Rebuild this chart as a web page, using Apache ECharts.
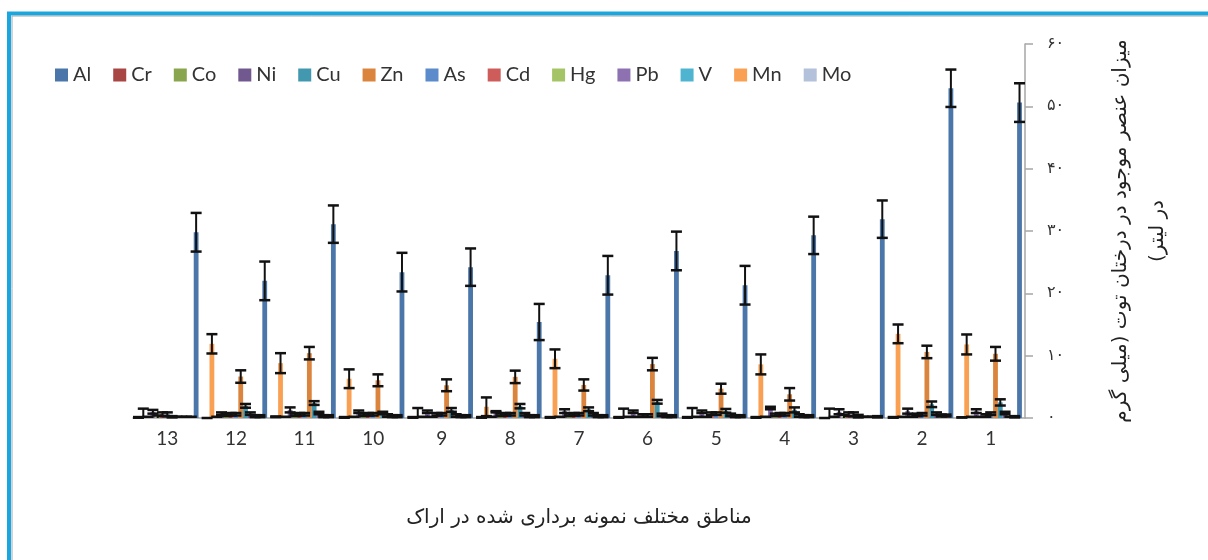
<!DOCTYPE html>
<html>
<head>
<meta charset="utf-8">
<script src="https://cdn.jsdelivr.net/npm/echarts@6/dist/echarts.min.js"></script>
<style>
html, body { margin: 0; padding: 0; background: #fff; }
#chart { width: 1208px; height: 560px; }
</style>
</head>
<body>
<div id="chart"></div>
<script>
// sampling regions 1..13 (axis shown reversed: 13 on the left)
var regions = ['1', '2', '3', '4', '5', '6', '7', '8', '9', '10', '11', '12', '13'];
var yTicks = [0, 10, 20, 30, 40, 50, 60];

var Al = [50.6, 52.9, 31.9, 29.3, 21.3, 26.8, 22.9, 15.4, 24.2, 23.4, 31.1, 22.0, 29.8];
var Cr = [0.2, 0.4, 0.2, 0.3, 0.3, 0.3, 0.3, 0.3, 0.3, 0.3, 0.3, 0.3, 0.1];
var Co = [0.1, 0.4, 0.1, 0.3, 0.3, 0.3, 0.3, 0.3, 0.3, 0.3, 0.3, 0.3, 0.1];
var Ni = [0.8, 0.7, 0.1, 0.4, 0.5, 0.5, 0.6, 0.6, 0.4, 0.4, 0.8, 0.7, 0.1];
var Cu = [2.5, 2.2, 0.1, 1.3, 1.15, 2.6, 1.4, 1.9, 1.3, 0.8, 2.4, 1.95, 0.1];
var Zn = [10.3, 10.6, 0.3, 3.8, 4.7, 8.65, 5.3, 6.6, 5.25, 6.05, 10.4, 6.65, 0.2];
var As = [0.7, 0.6, 0.6, 0.6, 0.7, 0.4, 0.6, 0.6, 0.6, 0.6, 0.6, 0.6, 0.6];
var Cd = [0.4, 0.5, 0.6, 0.6, 0.7, 0.4, 0.6, 0.6, 0.6, 0.6, 0.6, 0.6, 0.6];
var Hg = [0.1, 0.4, 0.2, 0.5, 0.1, 0.1, 0.5, 0.5, 0.1, 0.5, 0.5, 0.5, 0.2];
var Pb = [1.1, 1.1, 1.0, 1.6, 1.0, 1.0, 1.1, 1.0, 1.0, 1.0, 1.3, 0.7, 1.0];
var V  = [0.1, 0.1, 0.1, 0.1, 0.1, 0.1, 0.1, 0.1, 0.1, 0.1, 0.1, 0.1, 0.1];
var Mn = [11.8, 13.5, 0.1, 8.6, 0.1, 0.1, 9.5, 1.8, 0.1, 6.3, 8.8, 11.9, 0.1];
var Mo = [0.1, 0.1, 0.0, 0.1, 0.1, 0.1, 0.1, 0.1, 0.1, 0.1, 0.2, 0.0, 0.1];

// standard deviations (error bars)
var Al_err = [3.1, 3.0, 3.0, 3.0, 3.1, 3.1, 3.1, 2.9, 3.0, 3.1, 3.0, 3.1, 3.1];
var Cr_err = [0.1, 0.15, 0.1, 0.15, 0.15, 0.15, 0.15, 0.15, 0.15, 0.15, 0.15, 0.15, 0.1];
var Co_err = [0.1, 0.15, 0.1, 0.15, 0.15, 0.15, 0.15, 0.15, 0.15, 0.15, 0.15, 0.15, 0.1];
var Ni_err = [0.2, 0.2, 0.1, 0.2, 0.2, 0.2, 0.2, 0.2, 0.2, 0.2, 0.2, 0.2, 0.1];
var Cu_err = [0.5, 0.45, 0.1, 0.4, 0.3, 0.3, 0.3, 0.35, 0.3, 0.2, 0.3, 0.3, 0.1];
var Zn_err = [1.1, 1.0, 0.2, 1.0, 0.8, 1.0, 0.9, 1.0, 0.95, 0.95, 1.0, 1.0, 0.1];
var As_err = [0.2, 0.2, 0.3, 0.2, 0.2, 0.2, 0.2, 0.2, 0.2, 0.2, 0.2, 0.2, 0.3];
var Cd_err = [0.2, 0.2, 0.3, 0.2, 0.2, 0.2, 0.2, 0.2, 0.2, 0.2, 0.2, 0.2, 0.3];
var Hg_err = [0.1, 0.2, 0.3, 0.2, 0.1, 0.1, 0.2, 0.2, 0.1, 0.2, 0.2, 0.2, 0.2];
var Pb_err = [0.3, 0.4, 0.4, 0.2, 0.2, 0.2, 0.3, 0.1, 0.2, 0.2, 0.4, 0.2, 0.3];
var V_err  = [0.1, 0.1, 0.1, 0.1, 0.1, 0.1, 0.1, 0.1, 0.1, 0.1, 0.1, 0.1, 0.1];
var Mn_err = [1.6, 1.5, 1.4, 1.6, 1.5, 1.4, 1.5, 1.5, 1.5, 1.5, 1.6, 1.55, 1.4];
var Mo_err = [0.0, 0.05, 0.0, 0.05, 0.05, 0.05, 0.05, 0.05, 0.05, 0.05, 0.05, 0.0, 0.05];

var names = ['Al', 'Cr', 'Co', 'Ni', 'Cu', 'Zn', 'As', 'Cd', 'Hg', 'Pb', 'V', 'Mn', 'Mo'];
var values = [Al, Cr, Co, Ni, Cu, Zn, As, Cd, Hg, Pb, V, Mn, Mo];
var errors = [Al_err, Cr_err, Co_err, Ni_err, Cu_err, Zn_err, As_err, Cd_err, Hg_err, Pb_err, V_err, Mn_err, Mo_err];
var colors = ['#4A76A9', '#A84643', '#89A54E', '#71588F', '#4298AF', '#DB843D',
	'#5B8BCB', '#CD5C5A', '#A5C466', '#8D71B1', '#4FB4D0', '#F9A052', '#B3C1DB'];

var GAP = 0.09;
var fa = '۰۱۲۳۴۵۶۷۸۹';

var chart = echarts.init(document.getElementById('chart'));

var series = [];
// bars are laid out left to right in series order, so push them reversed (Mo ... Al)
for (var i = names.length - 1; i >= 0; i--) {
	series.push({
		name: names[i],
		type: 'bar',
		barGap: '0%',
		barCategoryGap: (GAP * 100) + '%',
		itemStyle: { color: colors[i] },
		data: values[i]
	});
}

var errData = [];
for (var i = 0; i < names.length; i++) {
	for (var r = 0; r < regions.length; r++) {
		errData.push([r, values[i][r], errors[i][r], names.length - 1 - i]);
	}
}

series.push({
	name: 'err',
	type: 'custom',
	z: 10,
	silent: true,
	encode: { x: 0, y: 1 },
	data: errData,
	renderItem: function (params, api) {
		var cat = api.value(0), v = api.value(1), e = api.value(2), slot = api.value(3);
		var band = Math.abs(api.size([1, 0])[0]);
		var total = band * (1 - GAP);
		var w = total / names.length;
		var c = api.coord([cat, v]);
		var x = c[0] - total / 2 + (slot + 0.5) * w;
		var lo = Math.max(0, v - e);
		var yt = api.coord([cat, v + e])[1];
		var yb = api.coord([cat, lo])[1];
		var st = { stroke: '#111', lineWidth: 2 };
		var capSt = { stroke: '#111', lineWidth: 2.5 };
		var kids = [
			{ type: 'line', shape: { x1: x, y1: yt, x2: x, y2: yb }, style: st },
			{ type: 'line', shape: { x1: x - 5.5, y1: yt, x2: x + 5.5, y2: yt }, style: capSt }
		];
		if (v - e > 0) {
			kids.push({ type: 'line', shape: { x1: x - 5.5, y1: yb, x2: x + 5.5, y2: yb }, style: capSt });
		}
		return { type: 'group', children: kids };
	}
});

var option = {
	animation: false,
	color: colors,
	graphic: [{
		type: 'rect',
		shape: { x: 9, y: 13.5, width: 1400, height: 800 },
		style: { fill: 'none', stroke: '#1AA7DF', lineWidth: 4 }
	}, {
		type: 'rect',
		shape: { x: 12, y: 16, width: 1400, height: 800 },
		style: { fill: 'none', stroke: '#A8A8A8', lineWidth: 1 }
	}],
	legend: {
		data: names,
		left: 50,
		top: 60,
		itemWidth: 13,
		itemHeight: 13,
		itemGap: 22,
		icon: 'rect',
		textStyle: { fontFamily: 'Lato', fontSize: 20, color: '#333' }
	},
	grid: {
		left: 133,
		right: 183,
		top: 44,
		bottom: 142
	},
	xAxis: {
		type: 'category',
		inverse: true,
		data: regions,
		axisLine: { lineStyle: { color: '#A6A6A6', width: 1.5 } },
		axisTick: { length: 10, lineStyle: { color: '#A6A6A6', width: 1.5 } },
		axisLabel: { margin: 11, fontFamily: 'Lato', fontSize: 19, color: '#333' },
		name: 'مناطق مختلف نمونه برداری شده در اراک',
		nameLocation: 'middle',
		nameGap: 90,
		nameTextStyle: { fontFamily: 'DejaVu Sans', fontSize: 20, color: '#222' }
	},
	yAxis: {
		type: 'value',
		position: 'right',
		min: 0,
		max: 60,
		interval: 10,
		splitLine: { show: false },
		axisLine: { show: true, lineStyle: { color: '#A6A6A6', width: 1.5 } },
		axisTick: { show: true, length: 8, lineStyle: { color: '#A6A6A6', width: 1.5 } },
		axisLabel: {
			margin: 22,
			fontFamily: 'DejaVu Sans',
			fontSize: 16,
			color: '#333',
			formatter: function (val) {
				return String(val).replace(/\d/g, function (d) { return fa[d]; });
			}
		},
		name: 'میزان عنصر موجود در درختان توت (میلی گرم\n\u200Fدر لیتر)\u200F',
		nameLocation: 'middle',
		nameRotate: 90,
		nameGap: 77,
		nameTextStyle: { fontFamily: 'DejaVu Sans', fontSize: 20, color: '#222', lineHeight: 37, align: 'center' }
	},
	series: series
};
chart.setOption(option);
</script>
</body>
</html>
